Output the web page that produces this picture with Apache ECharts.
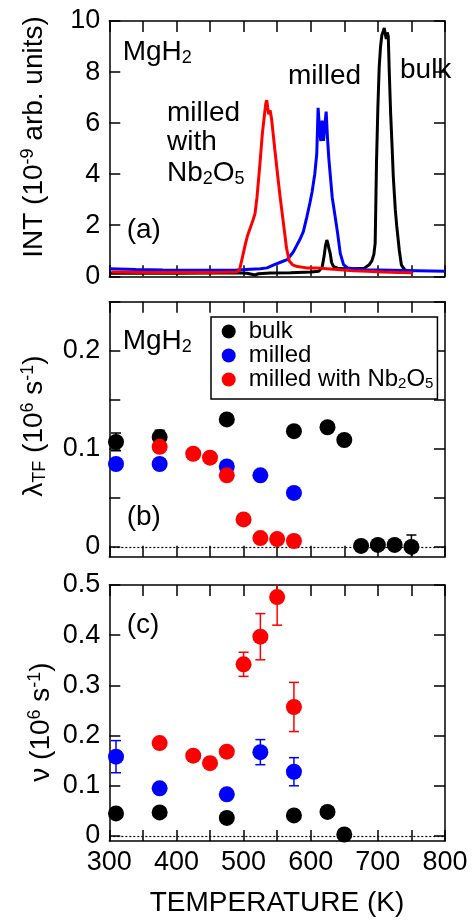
<!DOCTYPE html>
<html><head><meta charset="utf-8">
<script src="https://cdn.jsdelivr.net/npm/echarts@6/dist/echarts.min.js"></script>
<style>html,body{margin:0;padding:0;background:#fff}#c{width:474px;height:921px}</style>
</head><body><div id="c"></div>
<script>
// ---------- Panel (a): thermal desorption spectra ----------
const tdsBulkT = [300,400,460,490,505,512,517,522,540,570,600,612,617,620,622,624,625.5,627,629,631,634,640,650,665,680,687,691,694,696,698,700,702,704,706,708,709.5,711,712.5,714,715.5,717,719,721,723,726,728,732,735,740,753];
const tdsBulk  = [0.12,0.12,0.13,0.14,0.12,0.08,0.05,0.1,0.13,0.14,0.17,0.2,0.35,0.8,1.2,1.42,1.3,1.1,0.9,0.55,0.38,0.32,0.3,0.3,0.32,0.45,0.6,0.85,1.3,4.5,6.6,8.2,9.0,9.45,9.6,9.73,9.5,9.3,9.55,9.4,8.0,6.4,5.2,3.9,2.6,2.0,1.0,0.45,0.25,0.18];
const tdsMilledT = [300,340,380,420,460,490,510,525,535,545,555,565,574,579,584,589,594,599,602,606,609,611,613,615,617,619,621,623,625,627,629,632,636,640,644,649,655,664,683,720,760,800];
const tdsMilled  = [0.3,0.27,0.25,0.24,0.24,0.25,0.28,0.3,0.33,0.45,0.55,0.65,0.95,1.2,1.45,1.75,2.3,2.9,3.3,4.0,4.8,6.6,5.8,5.3,6.1,5.3,5.9,6.45,5.4,4.6,4.0,3.1,2.4,1.7,0.9,0.45,0.33,0.3,0.26,0.24,0.22,0.2];
const tdsNbT = [303,330,360,400,440,470,490,494,497,500,503,506,510,514,517,520,524,528,531,533,534.5,536,537.5,539.5,541.5,544,547,551,554,559,564,568,573,580,594,609,624,644,664,684,708,730,752];
const tdsNb  = [0.17,0.16,0.15,0.15,0.15,0.16,0.17,0.25,0.6,0.95,1.3,1.6,1.9,2.2,2.45,3.1,4.3,5.6,6.3,6.75,6.9,6.6,6.35,6.5,6.2,5.6,4.85,3.9,3.2,2.15,1.1,0.6,0.45,0.38,0.33,0.33,0.3,0.26,0.22,0.2,0.17,0.15,0.14];

// ---------- Panel (b): lambda_TF ----------
const lamBulkT = [310,375,475,575,625,650,675,700,725,750];
const lamBulk  = [0.107,0.112,0.130,0.118,0.122,0.109,0.001,0.002,0.002,0.000];
const lamBulkErr = [0.009,0.007,0,0,0,0,0,0,0,0.012];
const lamMilledT = [310,375,475,525,575];
const lamMilled  = [0.0845,0.0845,0.082,0.073,0.055];
const lamNbT = [375,425,450,475,500,525,550,575];
const lamNb  = [0.102,0.095,0.091,0.073,0.028,0.009,0.008,0.006];

// ---------- Panel (c): nu ----------
const nuBulkT = [310,375,475,575,625,650];
const nuBulk  = [0.045,0.047,0.036,0.041,0.048,0.003];
const nuMilledT = [310,375,475,525,575];
const nuMilled  = [0.158,0.095,0.083,0.167,0.128];
const nuMilledErr = [0.032,0,0,0.025,0.028];
const nuNbT = [375,425,450,475,500,525,550,575];
const nuNb  = [0.185,0.160,0.145,0.168,0.342,0.397,0.476,0.257];
const nuNbErr = [0,0,0,0,0.024,0.046,0.056,0.049];

// ---------- Axes ticks / labels ----------
const xTicks = [300,350,400,450,500,550,600,650,700,750,800];
const xLabels = [300,400,500,600,700,800];
const lamTicks = [0,0.05,0.1,0.15,0.2,0.25];
const lamLabels = [0,0.1,0.2];
const nuTicks = [0,0.1,0.2,0.3,0.4,0.5];
const nuLabels = [0,0.1,0.2,0.3,0.4,0.5];
const legendNames = ['bulk','milled','milled with Nb2O5'];

const FF = '"Liberation Sans", Arial, Helvetica, sans-serif';
const BLACK = '#000000', BLUE = '#0000ff', RED = '#ff0000';

function zip(a, b) { return a.map((v, i) => [v, b[i]]); }
function zip3(a, b, c) { return a.map((v, i) => [v, b[i], c[i]]).filter(d => d[2] > 0); }

function richSet(size) {
  const s = Math.round(size * 0.64);
  return {
    m: {fontSize: size, fontFamily: FF, lineHeight: size + 2, fill: '#000', color: '#000'},
    s: {fontSize: s, fontFamily: FF, lineHeight: 12, verticalAlign: 'bottom', fill: '#000', color: '#000'},
    p: {fontSize: s, fontFamily: FF, lineHeight: 16, verticalAlign: 'top', fill: '#000', color: '#000'}
  };
}
function gtext(x, y, text, opt) {
  opt = opt || {};
  const size = opt.size || 28;
  const align = opt.align || 'left';
  return {
    type: 'text', x: x, y: y, rotation: opt.rot || 0, z: 100,
    style: {
      text: text, rich: richSet(size), fill: '#000',
      font: size + 'px ' + FF, fontSize: size, fontFamily: FF,
      align: align, textAlign: align, verticalAlign: 'middle', textVerticalAlign: 'middle'
    }
  };
}

const tickStyle = {show: true, inside: true, length: 11, lineStyle: {color: '#000', width: 1.5}};
const lineStyleAx = {show: true, onZero: false, lineStyle: {color: '#000', width: 1.5}};
const lblStyle = {fontSize: 27, fontFamily: FF, color: '#000'};

function xAx(grid, pos, showLabels) {
  return {
    type: 'value', gridIndex: grid, position: pos, min: 300, max: 800, interval: 50,
    axisLine: lineStyleAx, axisTick: tickStyle, splitLine: {show: false},
    axisLabel: Object.assign({show: showLabels, margin: 8,
      customValues: xLabels, formatter: v => String(v)}, lblStyle)
  };
}
function yAxA(pos, show) {
  return {
    type: 'value', gridIndex: 0, position: pos, min: 0, max: 10, interval: 2,
    axisLine: lineStyleAx, axisTick: tickStyle, splitLine: {show: false},
    axisLabel: Object.assign({show: show, margin: 9}, lblStyle)
  };
}
function yAxCustom(grid, pos, show, mn, mx, ticks, labels) {
  return {
    type: 'value', gridIndex: grid, position: pos, min: mn, max: mx,
    axisLine: lineStyleAx,
    axisTick: Object.assign({customValues: ticks}, tickStyle),
    splitLine: {show: false},
    axisLabel: Object.assign({show: show, margin: 9, customValues: labels,
      formatter: v => (Math.abs(v) < 1e-9 ? '0' : v.toFixed(1))}, lblStyle)
  };
}

function errRender(params, api) {
  const x = api.value(0), y = api.value(1), e = api.value(2);
  const p1 = api.coord([x, y + e]), p2 = api.coord([x, y - e]);
  const st = {stroke: api.visual('color'), lineWidth: 1.5};
  return {type: 'group', children: [
    {type: 'line', shape: {x1: p1[0], y1: p1[1], x2: p2[0], y2: p2[1]}, style: st},
    {type: 'line', shape: {x1: p1[0] - 5, y1: p1[1], x2: p1[0] + 5, y2: p1[1]}, style: st},
    {type: 'line', shape: {x1: p2[0] - 5, y1: p2[1], x2: p2[0] + 5, y2: p2[1]}, style: st}
  ]};
}
function errSeries(xi, yi, data, color) {
  return {type: 'custom', name: 'err', xAxisIndex: xi, yAxisIndex: yi, renderItem: errRender,
    data: data, itemStyle: {color: color}, encode: {x: 0, y: 1}, clip: true, z: 2, silent: true};
}
function scat(name, xi, yi, data, color, extra) {
  return Object.assign({type: 'scatter', name: name, xAxisIndex: xi, yAxisIndex: yi,
    data: data, symbol: 'circle', symbolSize: 16, itemStyle: {color: color, opacity: 1},
    z: 3, silent: true}, extra || {});
}
function tds(name, tArr, vArr, color) {
  return {type: 'line', name: name, xAxisIndex: 0, yAxisIndex: 0, data: zip(tArr, vArr),
    showSymbol: false, symbol: 'none', lineStyle: {color: color, width: 3}, itemStyle: {color: color},
    z: 2, silent: true};
}
const zeroLine = {silent: true, symbol: 'none', z: 1, label: {show: false},
  lineStyle: {type: [2, 2], color: '#000', width: 1.2}, data: [{yAxis: 0}]};

const option = {
  animation: false,
  backgroundColor: '#fff',
  textStyle: {fontFamily: FF},
  grid: [
    {left: 109.3, right: 29, top: 21, height: 255.3},
    {left: 109.3, right: 29, top: 301.7, height: 255},
    {left: 109.3, right: 29, top: 585, height: 256}
  ],
  xAxis: [
    xAx(0, 'bottom', false), xAx(0, 'top', false),
    xAx(1, 'bottom', false), xAx(1, 'top', false),
    xAx(2, 'bottom', true), xAx(2, 'top', false)
  ],
  yAxis: [
    yAxA('left', true), yAxA('right', false),
    yAxCustom(1, 'left', true, -0.01, 0.25, lamTicks, lamLabels),
    yAxCustom(1, 'right', false, -0.01, 0.25, lamTicks, lamLabels),
    yAxCustom(2, 'left', true, -0.01, 0.5, nuTicks, nuLabels),
    yAxCustom(2, 'right', false, -0.01, 0.5, nuTicks, nuLabels)
  ],
  legend: {
    data: legendNames, left: 211, top: 317, orient: 'vertical',
    icon: 'circle', itemWidth: 30, itemHeight: 14, itemGap: 0,
    padding: [2.5, 4, 7.5, 10.7], borderColor: '#000', borderWidth: 1.5, borderRadius: 0,
    backgroundColor: '#fff', selectedMode: false,
    formatter: n => n === 'milled with Nb2O5' ? '{n|milled with Nb}{s|2}{n|O}{s|5}' : '{n|' + n + '}',
    textStyle: {fontSize: 24, fontFamily: FF, color: '#000', rich: {
      n: {fontSize: 24, fontFamily: FF, color: '#000', lineHeight: 24},
      s: {fontSize: 15, fontFamily: FF, color: '#000', lineHeight: 10, verticalAlign: 'bottom'}
    }}
  },
  series: [
    tds('TDS bulk', tdsBulkT, tdsBulk, BLACK),
    tds('TDS milled', tdsMilledT, tdsMilled, BLUE),
    tds('TDS Nb', tdsNbT, tdsNb, RED),

    errSeries(2, 2, zip3(lamBulkT, lamBulk, lamBulkErr), BLACK),
    scat('bulk', 2, 2, zip(lamBulkT, lamBulk), BLACK, {markLine: zeroLine}),
    scat('milled', 2, 2, zip(lamMilledT, lamMilled), BLUE),
    scat('milled with Nb2O5', 2, 2, zip(lamNbT, lamNb), RED),

    errSeries(4, 4, zip3(nuMilledT, nuMilled, nuMilledErr), BLUE),
    errSeries(4, 4, zip3(nuNbT, nuNb, nuNbErr), RED),
    scat('bulk', 4, 4, zip(nuBulkT, nuBulk), BLACK, {markLine: zeroLine}),
    scat('milled', 4, 4, zip(nuMilledT, nuMilled), BLUE),
    scat('milled with Nb2O5', 4, 4, zip(nuNbT, nuNb), RED)
  ],
  graphic: [
    gtext(122.7, 52, '{m|MgH}{s|2}'),
    gtext(288, 76, '{m|milled}'),
    gtext(400, 70, '{m|bulk}'),
    gtext(167, 113, '{m|milled}'),
    gtext(167, 142.5, '{m|with}'),
    gtext(167, 173, '{m|Nb}{s|2}{m|O}{s|5}'),
    gtext(126.7, 230, '{m|(a)}'),
    gtext(122.7, 341, '{m|MgH}{s|2}'),
    gtext(126.7, 517, '{m|(b)}'),
    gtext(126.7, 625, '{m|(c)}'),
    gtext(34, 137, '{m|INT (10}{p|-9}{m| arb. units)}', {align: 'center', rot: Math.PI / 2}),
    gtext(34, 426, '{m|λ}{s|TF}{m| (10}{p|6}{m| s}{p|-1}{m|)}', {align: 'center', rot: Math.PI / 2}),
    gtext(41, 722, '{m|ν (10}{p|6}{m| s}{p|-1}{m|)}', {align: 'center', rot: Math.PI / 2}),
    gtext(277, 903, '{m|TEMPERATURE (K)}', {align: 'center'})
  ]
};
const chart = echarts.init(document.getElementById('c'), null, {renderer: 'canvas'});
chart.setOption(option);
</script></body></html>
